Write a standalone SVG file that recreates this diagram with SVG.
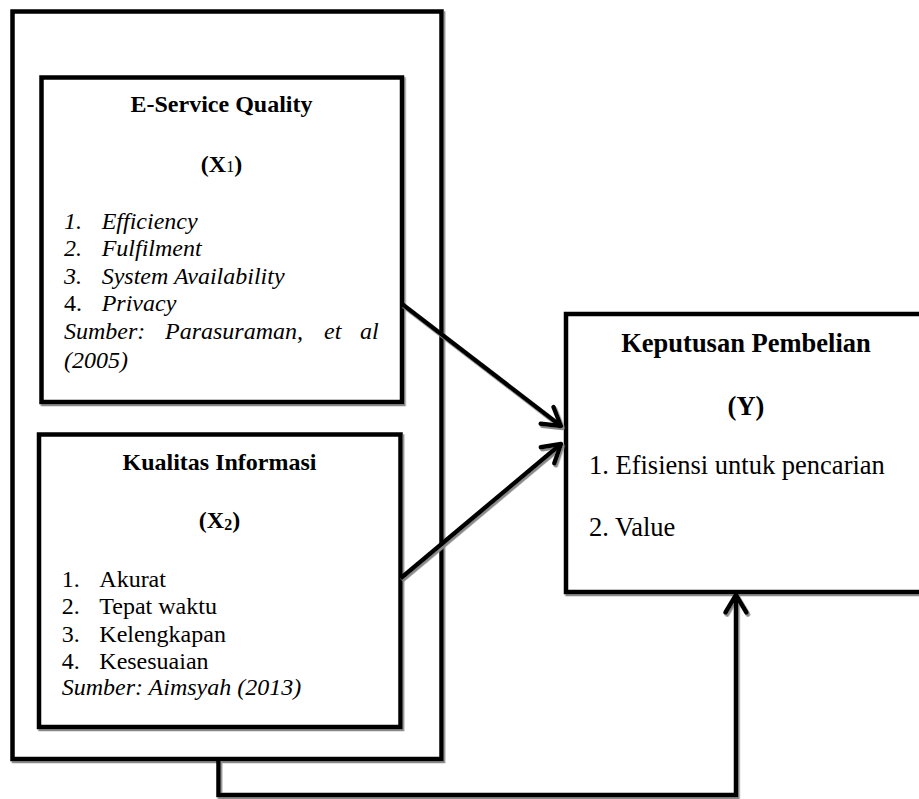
<svg xmlns="http://www.w3.org/2000/svg" width="919" height="799" viewBox="0 0 919 799">
  <style>
    .box { fill: #ffffff; stroke: #000000; stroke-width: 4.5; }
    .conn { fill: none; stroke: #000000; stroke-width: 4.5; stroke-linejoin: miter; }
    .shadow { filter: url(#shd); }
    text { font-family: "Liberation Serif", "Times New Roman", serif; fill: #000000; }
    .t24 { font-size: 24px; }
    .t26 { font-size: 26.5px; }
    .b { font-weight: bold; }
    .i { font-style: italic; }
  </style>
  <defs>
    <filter id="shd" x="-5%" y="-5%" width="110%" height="110%">
      <feDropShadow dx="1.5" dy="2" stdDeviation="0.6" flood-color="#8a8a8a" flood-opacity="1"/>
    </filter>
    <marker id="arr" markerUnits="userSpaceOnUse" markerWidth="30" markerHeight="30" viewBox="-22 -15 26 30" refX="0" refY="0" orient="auto">
      <path d="M -17.5 -10.5 L 0 0 L -17.5 10.5" fill="none" stroke="#000000" stroke-width="4.5" stroke-linecap="round" stroke-linejoin="round"/>
    </marker>
  </defs>
  <rect width="919" height="799" fill="#ffffff"/>

  <g id="outer" class="shadow">
    <rect class="box" x="12.5" y="11.5" width="429" height="747.5"/>
  </g>

  <g id="node-x1">
    <rect class="box shadow" x="41.5" y="77.5" width="360.5" height="324.5"/>
    <text class="t24 b" x="221.5" y="112" text-anchor="middle">E-Service Quality</text>
    <text class="t24 b" x="221.5" y="171.5" text-anchor="middle">(X<tspan font-size="16" font-weight="normal">1</tspan>)</text>
    <text class="t24 i" x="64" y="228.5">1.</text>
    <text class="t24 i" x="101.7" y="228.5">Efficiency</text>
    <text class="t24 i" x="64" y="256">2.</text>
    <text class="t24 i" x="101.7" y="256">Fulfilment</text>
    <text class="t24 i" x="64" y="283.5">3.</text>
    <text class="t24 i" x="101.7" y="283.5">System Availability</text>
    <text class="t24" x="64" y="311">4.</text>
    <text class="t24 i" x="101.7" y="311">Privacy</text>
    <text class="t24 i" y="338.5"><tspan x="64">Sumber:</tspan><tspan x="165">Parasuraman,</tspan><tspan x="324">et</tspan><tspan x="360">al</tspan></text>
    <text class="t24 i" x="64" y="368">(2005)</text>
  </g>

  <g id="node-x2">
    <rect class="box shadow" x="39" y="434.5" width="361.5" height="292.5"/>
    <text class="t24 b" x="219.5" y="470" text-anchor="middle">Kualitas Informasi</text>
    <text class="t24 b" x="219.5" y="528" text-anchor="middle">(X<tspan font-size="16" dy="2">2</tspan><tspan dy="-2">)</tspan></text>
    <text class="t24" x="61.7" y="586.5">1.</text>
    <text class="t24" x="99.3" y="586.5">Akurat</text>
    <text class="t24" x="61.7" y="613.5">2.</text>
    <text class="t24" x="99.3" y="613.5">Tepat waktu</text>
    <text class="t24" x="61.7" y="641.5">3.</text>
    <text class="t24" x="99.3" y="641.5">Kelengkapan</text>
    <text class="t24" x="61.7" y="668.5">4.</text>
    <text class="t24" x="99.3" y="668.5">Kesesuaian</text>
    <text class="t24 i" x="61.7" y="695">Sumber: Aimsyah (2013)</text>
  </g>

  <g id="node-y">
    <rect class="box shadow" x="566" y="314" width="362" height="278"/>
    <text class="t26 b" x="746" y="351.5" text-anchor="middle">Keputusan Pembelian</text>
    <text class="t26 b" x="746" y="414.5" text-anchor="middle">(Y)</text>
    <text class="t26" x="589" y="474">1. Efisiensi untuk pencarian</text>
    <text class="t26" x="589" y="536">2. Value</text>
  </g>

  <g id="connectors" class="shadow">
    <line class="conn" x1="402" y1="304" x2="561" y2="426" marker-end="url(#arr)"/>
    <line class="conn" x1="400.5" y1="578.5" x2="561" y2="444" marker-end="url(#arr)"/>
    <polyline class="conn" points="218.5,759 218.5,795 736,795 736,595" marker-end="url(#arr)"/>
  </g>
</svg>
